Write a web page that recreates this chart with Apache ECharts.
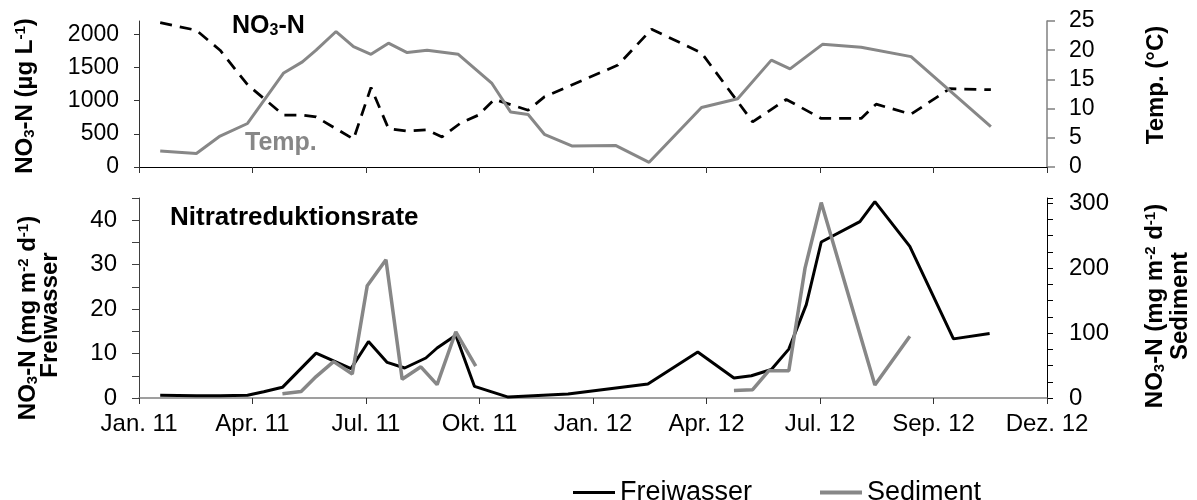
<!DOCTYPE html>
<html>
<head>
<meta charset="utf-8">
<script src="https://cdn.jsdelivr.net/npm/echarts@6/dist/echarts.min.js"></script>
<style>
html,body{margin:0;padding:0;background:#fff;}
#chart{width:1197px;height:500px;}
</style>
</head>
<body>
<div id="chart"></div>
<script>
// ---- data ----
const tickLabels = ['Jan. 11','Apr. 11','Jul. 11','Okt. 11','Jan. 12','Apr. 12','Jul. 12','Sep. 12','Dez. 12'];
const tickStep = 91; // days between axis ticks

// top panel: NO3-N (µg/L) and temperature (°C), x = days since Jan 1 2011
const no3Days   = [17,46,65,87,116,131,142,172,186,200,215,231,243,258,272,285,312,325,384,411,451,492,519,547,579,591,619,650,683];
const no3Values = [2175,2060,1760,1240,781,781,755,420,1199,580,540,560,453,665,781,1018,856,1057,1536,2076,1720,680,1018,731,731,947,796,1180,1165];

const tempDays   = [17,46,65,87,116,131,142,158,172,186,200,215,231,256,283,298,312,325,347,382,409,451,480,507,522,548,579,619,683];
const tempValues = [2.75,2.3,5.3,7.45,16.1,18.0,20.0,23.2,20.6,19.3,21.2,19.6,20.0,19.3,14.3,9.4,9.0,5.6,3.6,3.7,0.8,10.2,11.7,18.3,16.8,21.0,20.5,18.9,6.9];

// bottom panel: nitrate reduction rate (mg m-2 d-1)
const fwDays   = [17,46,65,87,100,115,142,170,184,199,213,230,239,254,269,296,344,408,448,477,491,507,521,535,547,578,590,618,653,682];
const fwValues = [0.6,0.5,0.5,0.6,1.4,2.4,10.1,6.6,12.7,8.0,6.75,9.0,11.25,14.1,2.6,0.2,0.9,3.15,10.35,4.5,5.0,6.4,11.0,21,35.1,39.7,44.2,34.1,13.3,14.5];

const sedDays   = [115,130,142,156,171,183,198,211,226,239,254,270,370,477,492,505,521,534,547,590,618];
const sedValues = [6.6,10,33,56,37,173,213,29,48,20.5,102,49,null,11.7,12.8,42,42,200,301,20,95];

// ---- chart ----
const FONT = '"Liberation Sans", Arial, sans-serif';
const GRAY = '#878787';
const pair = (xs, ys) => xs.map((d, i) => [d, ys[i] === null ? '-' : ys[i]]);

const rich = (size, color) => ({
  b:   {fontSize: size, fontWeight: 'bold', fontFamily: FONT, color: color},
  sub: {fontSize: Math.round(size*0.62), fontWeight: 'bold', fontFamily: FONT, color: color, padding: [9,0,0,0]},
  sup: {fontSize: Math.round(size*0.62), fontWeight: 'bold', fontFamily: FONT, color: color, padding: [0,0,9,0]}
});

function vText(x, y, text, size) {
  return {
    type: 'text', x: x, y: y, rotation: Math.PI/2, silent: true,
    style: {x: 0, y: 0, text: text, align: 'center', verticalAlign: 'middle', rich: rich(size, '#000')}
  };
}

const chart = echarts.init(document.getElementById('chart'), null, {renderer: 'canvas'});
const xBase = {
  type: 'value', min: 0, max: tickStep * (tickLabels.length - 1), interval: tickStep,
  splitLine: {show: false},
  axisTick: {show: true, inside: false, length: 6, lineStyle: {color: '#333'}}
};
chart.setOption({
  animation: false,
  backgroundColor: '#fff',
  grid: [
    {left: 139, right: 150, top: 21, height: 146},
    {left: 139, right: 150, top: 198, height: 200}
  ],
  xAxis: [
    Object.assign({}, xBase, {gridIndex: 0,
      axisLine: {show: true, onZero: false, lineStyle: {color: '#000', width: 1}},
      axisLabel: {show: false}}),
    Object.assign({}, xBase, {gridIndex: 1,
      axisLine: {show: true, onZero: false, lineStyle: {color: '#808080', width: 1.5}},
      axisLabel: {show: true, margin: 14, fontSize: 24, fontFamily: FONT, color: '#000',
        formatter: v => tickLabels[Math.round(v / tickStep)] || ''}})
  ],
  yAxis: [
    {gridIndex: 0, type: 'value', position: 'left', min: 0, max: 2200, interval: 500,
      splitLine: {show: false},
      axisLine: {show: true, lineStyle: {color: '#333'}},
      axisTick: {show: true, length: 5, lineStyle: {color: '#333'}},
      axisLabel: {margin: 20, fontSize: 23, fontFamily: FONT, color: '#000', showMaxLabel: false,
        formatter: v => (v % 500 === 0 ? String(v) : '')}},
    {gridIndex: 0, type: 'value', position: 'right', min: 0, max: 25, interval: 5,
      splitLine: {show: false},
      axisLine: {show: true, lineStyle: {color: '#808080', width: 1.5}},
      axisTick: {show: true, length: 8, lineStyle: {color: '#808080', width: 1.5}},
      axisLabel: {margin: 22, fontSize: 23, fontFamily: FONT, color: '#000'}},
    {gridIndex: 1, type: 'value', position: 'left', min: 0, max: 45, interval: 5,
      splitLine: {show: false},
      axisLine: {show: true, lineStyle: {color: '#404040'}},
      axisTick: {show: true, length: 7, lineStyle: {color: '#404040'}},
      axisLabel: {margin: 22, fontSize: 24, fontFamily: FONT, color: '#000',
        formatter: v => (v % 10 === 0 ? String(v) : '')}},
    {gridIndex: 1, type: 'value', position: 'right', min: 0, max: 308, interval: 25,
      splitLine: {show: false},
      axisLine: {show: true, lineStyle: {color: '#000'}},
      axisTick: {show: true, length: 6, lineStyle: {color: '#000'}},
      axisLabel: {margin: 22, fontSize: 24, fontFamily: FONT, color: '#000',
        formatter: v => (v % 100 === 0 ? String(v) : '')}}
  ],
  legend: [
    {data: ['Freiwasser'], left: 573, top: 479, padding: 0, itemGap: 0, icon: 'rect',
      itemWidth: 42, itemHeight: 3, textStyle: {fontSize: 27, fontFamily: FONT, color: '#000'}},
    {data: ['Sediment'], left: 820, top: 479, padding: 0, itemGap: 0, icon: 'rect',
      itemWidth: 42, itemHeight: 4, textStyle: {fontSize: 27, fontFamily: FONT, color: '#000'}}
  ],
  graphic: [
    {type: 'text', left: 232, top: 14, silent: true,
      style: {text: '{b|NO}{sub|3}{b|-N}', rich: rich(25, '#000')}},
    {type: 'text', left: 245, top: 131, silent: true,
      style: {text: 'Temp.', fontSize: 25, fontWeight: 'bold', fontFamily: FONT, fill: GRAY}},
    {type: 'text', left: 170, top: 205, silent: true,
      style: {text: 'Nitratreduktionsrate', fontSize: 26, fontWeight: 'bold', fontFamily: FONT, fill: '#000'}},
    vText(25, 96, '{b|NO}{sub|3}{b|-N (µg L}{sup|-1}{b|)}', 24),
    vText(1156, 85, '{b|Temp. (°C)}', 24),
    vText(28, 318, '{b|NO}{sub|3}{b|-N (mg m}{sup|-2}{b| d}{sup|-1}{b|)}', 24),
    vText(50, 315, '{b|Freiwasser}', 24),
    vText(1155, 306, '{b|NO}{sub|3}{b|-N (mg m}{sup|-2}{b| d}{sup|-1}{b|)}', 24),
    vText(1180, 306, '{b|Sediment}', 24)
  ],
  series: [
    {name: 'NO3-N', type: 'line', xAxisIndex: 0, yAxisIndex: 0, data: pair(no3Days, no3Values),
      symbol: 'none', lineStyle: {color: '#000', width: 2.75, type: [12, 8]}, itemStyle: {color: '#000'}},
    {name: 'Temp.', type: 'line', xAxisIndex: 0, yAxisIndex: 1, data: pair(tempDays, tempValues),
      symbol: 'none', lineStyle: {color: GRAY, width: 3}, itemStyle: {color: GRAY}},
    {name: 'Freiwasser', type: 'line', xAxisIndex: 1, yAxisIndex: 2, data: pair(fwDays, fwValues),
      symbol: 'none', lineStyle: {color: '#000', width: 3}, itemStyle: {color: '#000'}},
    {name: 'Sediment', type: 'line', xAxisIndex: 1, yAxisIndex: 3, data: pair(sedDays, sedValues),
      symbol: 'none', connectNulls: false, lineStyle: {color: GRAY, width: 3.5}, itemStyle: {color: GRAY}}
  ]
});
</script>
</body>
</html>
